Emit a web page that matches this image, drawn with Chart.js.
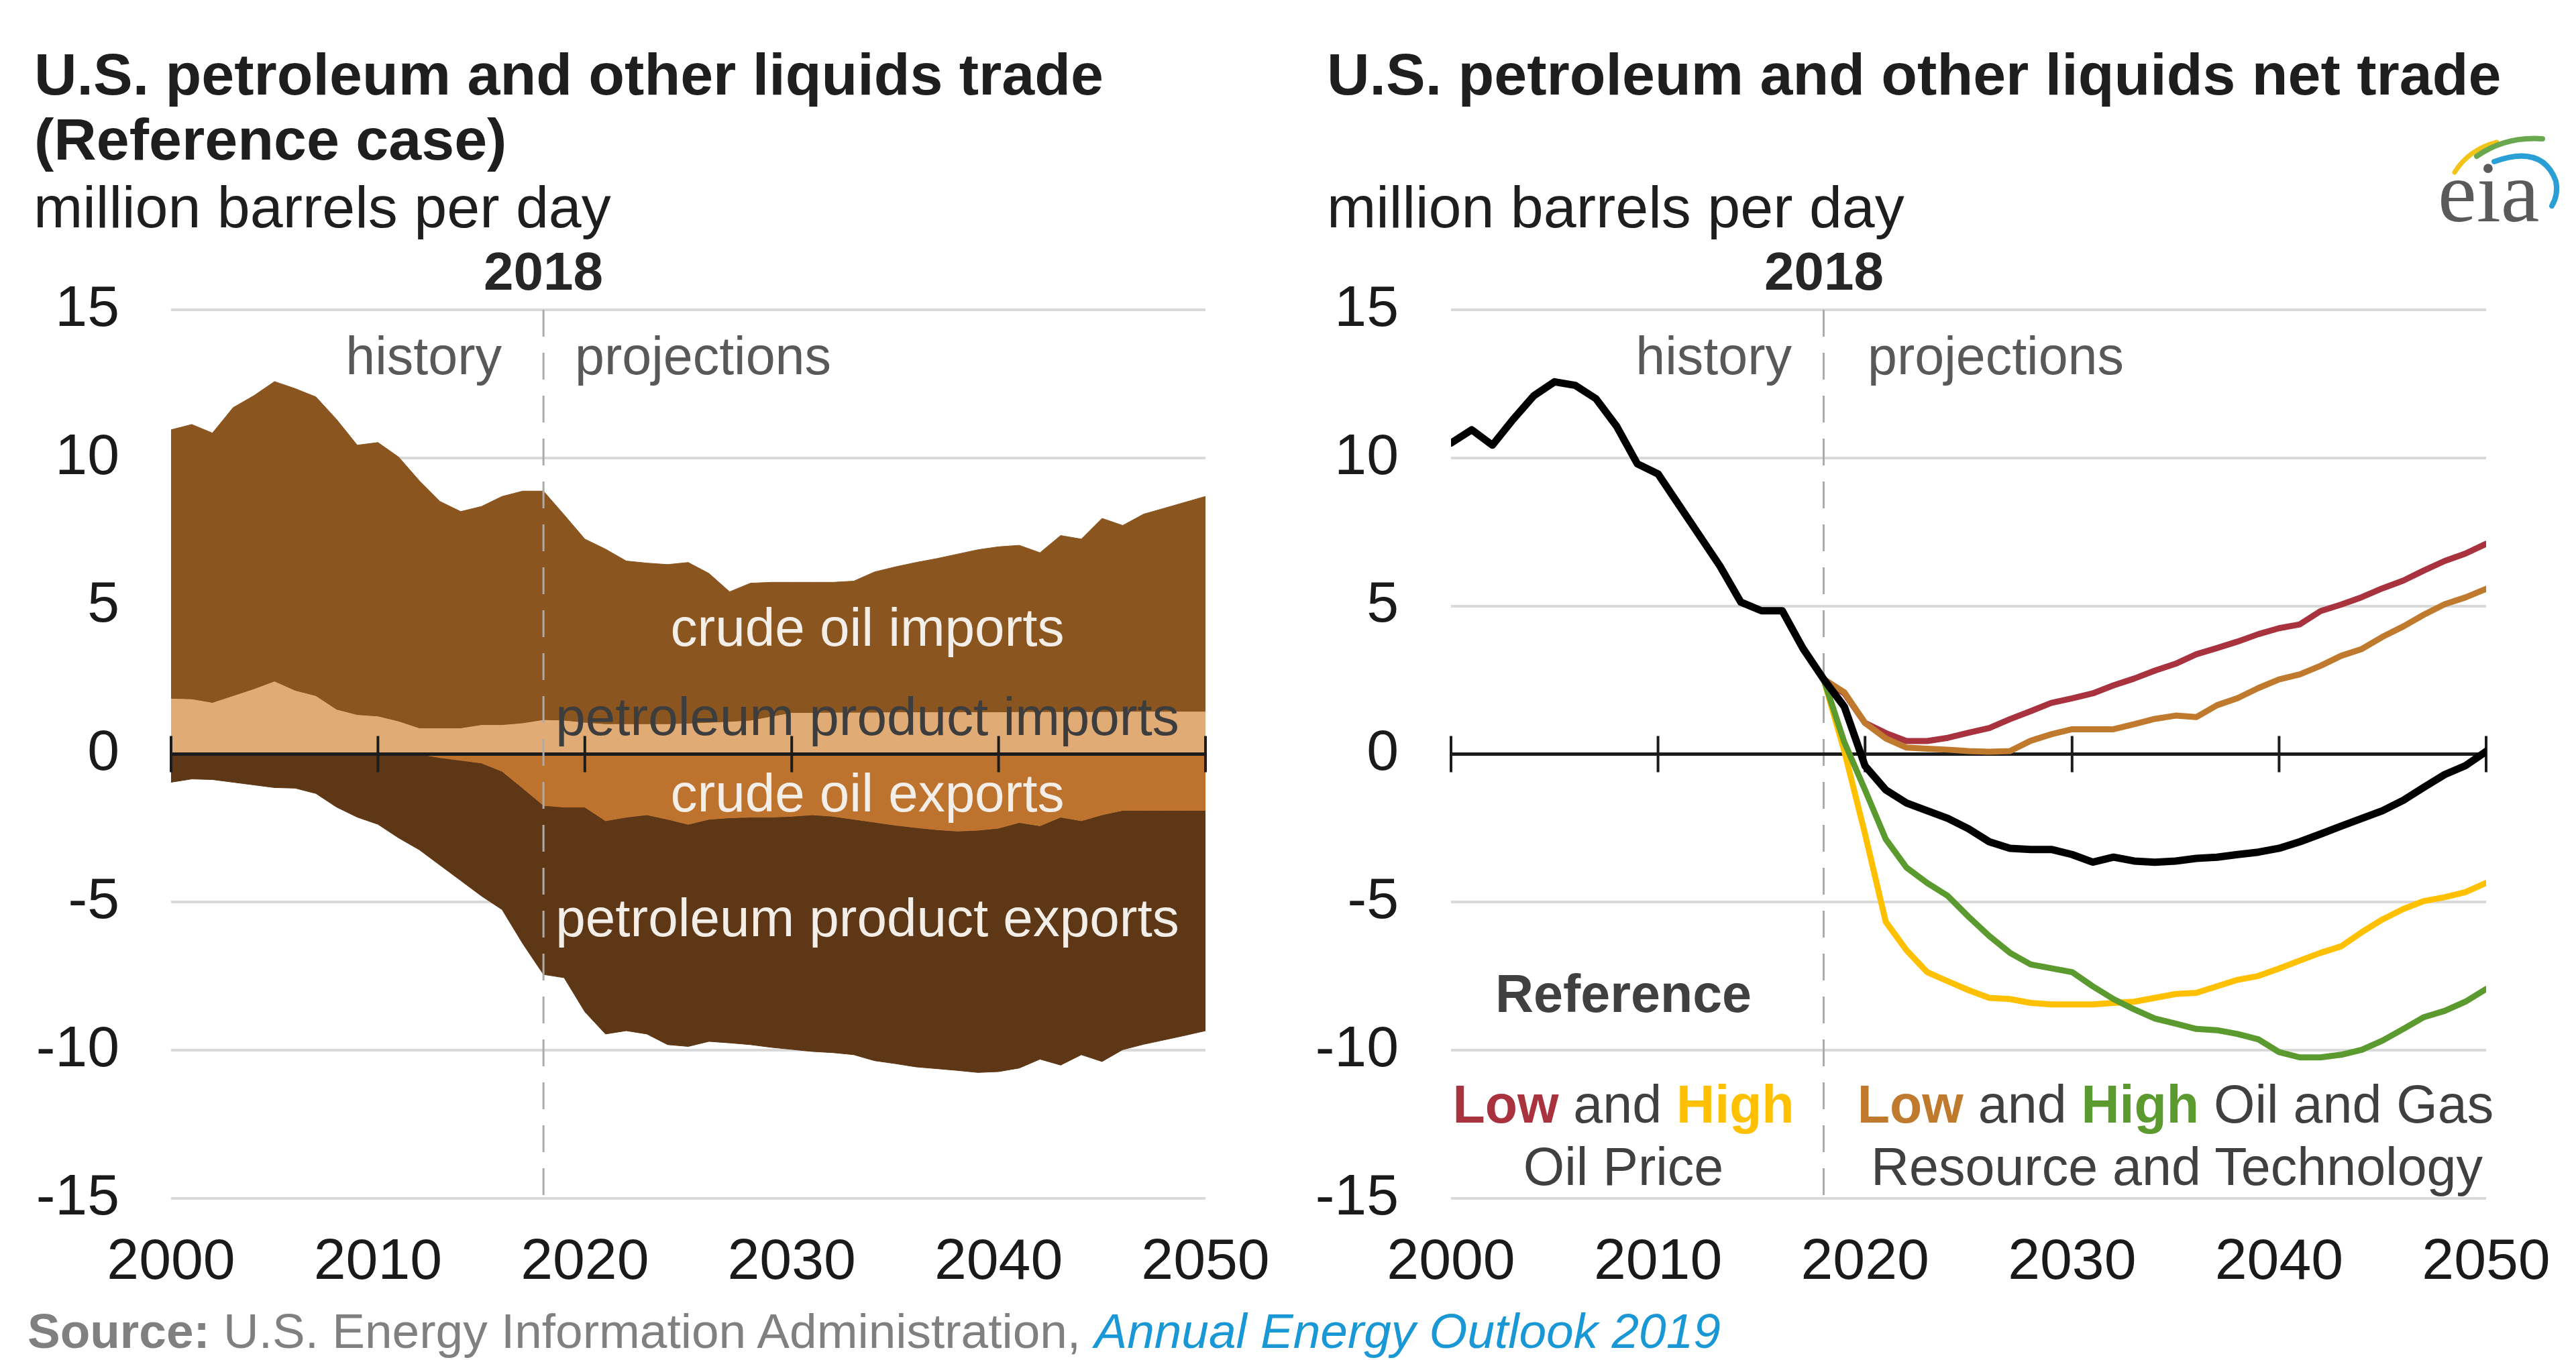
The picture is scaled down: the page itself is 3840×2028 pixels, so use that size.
<!DOCTYPE html>
<html>
<head>
<meta charset="utf-8">
<script src="https://cdn.jsdelivr.net/npm/chart.js@4.4.1/dist/chart.umd.min.js"></script>
<style>
html,body{margin:0;padding:0;background:#fff;}
#wrap{position:relative;width:3840px;height:2028px;overflow:hidden;font-family:"Liberation Sans",Arial,sans-serif;}
canvas{position:absolute;top:0;}
.t{position:absolute;white-space:nowrap;line-height:1;}
.c{transform:translateX(-50%);}
.r{transform:translateX(-100%);}
.title{font-weight:bold;font-size:88px;line-height:97px;color:#1e1e1e;top:62px;}
.sub{font-size:88px;color:#1e1e1e;top:265px;}
.yr{font-weight:bold;font-size:80px;color:#262626;top:365px;}
.hp{font-size:79px;color:#595959;top:491px;}
.ann{font-size:80px;color:#f4eee8;}
.ann2{font-size:79px;color:#404040;}
b{font-weight:bold;}
</style>
</head>
<body>
<div id="wrap">
<canvas id="leftChart" width="1920" height="2028" style="left:0"></canvas>
<canvas id="rightChart" width="1920" height="2028" style="left:1920px"></canvas>

<div class="t title" style="left:51px;">U.S. petroleum and other liquids trade<br>(Reference case)</div>
<div class="t sub" style="left:50px;">million barrels per day</div>
<div class="t title" style="left:1978px;">U.S. petroleum and other liquids net trade</div>
<div class="t sub" style="left:1978px;">million barrels per day</div>

<div class="t yr c" style="left:810px;">2018</div>
<div class="t yr c" style="left:2719px;">2018</div>

<div class="t hp r" style="left:748px;">history</div>
<div class="t hp" style="left:857px;">projections</div>
<div class="t hp r" style="left:2671px;">history</div>
<div class="t hp" style="left:2784px;">projections</div>

<div class="t ann c" style="left:1293px;top:896px;">crude oil imports</div>
<div class="t ann c" style="left:1293px;top:1029px;color:#3d3d3d;">petroleum product imports</div>
<div class="t ann c" style="left:1293px;top:1143px;">crude oil exports</div>
<div class="t ann c" style="left:1293px;top:1329px;">petroleum product exports</div>

<div class="t ann2 c" style="left:2420px;top:1442px;font-weight:bold;">Reference</div>
<div class="t ann2 c" style="left:2420px;top:1607px;"><b style="color:#a8323e">Low</b> and <b style="color:#ffc000">High</b></div>
<div class="t ann2 c" style="left:2420px;top:1700px;">Oil Price</div>
<div class="t ann2 c" style="left:3243px;top:1607px;"><b style="color:#c07a2d">Low</b> and <b style="color:#5b9a2f">High</b> Oil and Gas</div>
<div class="t ann2 c" style="left:3245px;top:1700px;">Resource and Technology</div>

<div class="t" style="left:41px;top:1948px;font-size:73px;color:#808080;"><b>Source:</b> U.S. Energy Information Administration, <i style="color:#1a98d5">Annual Energy Outlook 2019</i></div>

<svg style="position:absolute;left:3640px;top:195px;" width="190" height="130" viewBox="0 0 190 130">
  <path d="M19 62 Q40 28 82 17" stroke="#f2c318" stroke-width="7" fill="none" stroke-linecap="round"/>
  <path d="M52 38 Q95 8 150 12" stroke="#6aa84f" stroke-width="8" fill="none" stroke-linecap="round"/>
  <path d="M78 46 Q150 20 170 75 Q174 95 164 112" stroke="#2a9fd6" stroke-width="8" fill="none" stroke-linecap="round"/>
</svg>
<div class="t" style="left:3634px;top:221px;font-family:'Liberation Serif','DejaVu Serif',serif;font-size:130px;color:#5a5a5a;">eia</div>
</div>

<script>
// ---- categories ----
const years = [2000,2001,2002,2003,2004,2005,2006,2007,2008,2009,
  2010,2011,2012,2013,2014,2015,2016,2017,2018,2019,
  2020,2021,2022,2023,2024,2025,2026,2027,2028,2029,
  2030,2031,2032,2033,2034,2035,2036,2037,2038,2039,
  2040,2041,2042,2043,2044,2045,2046,2047,2048,2049,2050];
const projYears = [2018,2019,2020,2021,2022,2023,2024,2025,2026,2027,
  2028,2029,2030,2031,2032,2033,2034,2035,2036,2037,
  2038,2039,2040,2041,2042,2043,2044,2045,2046,2047,2048,2049,2050];
const historyEndYear = 2018;

// ---- left chart: trade components (million barrels per day) ----
const productImports = [1.86,1.84,1.72,1.95,2.18,2.44,2.13,1.95,1.49,1.31,
  1.26,1.09,0.86,0.86,0.86,0.97,0.97,1.03,1.14,1.12,
  1.05,1.00,1.00,1.00,1.00,1.02,1.05,1.08,1.12,1.25,
  1.38,1.38,1.39,1.39,1.39,1.40,1.40,1.40,1.40,1.40,
  1.40,1.41,1.41,1.41,1.41,1.41,1.42,1.42,1.42,1.42,1.42];
const crudeImports = [9.09,9.29,9.12,9.75,9.92,10.14,10.21,10.11,9.81,9.12,
  9.26,8.94,8.37,7.67,7.33,7.39,7.73,7.85,7.74,6.96,
  6.21,5.92,5.52,5.45,5.40,5.45,5.05,4.40,4.65,4.55,
  4.42,4.42,4.41,4.45,4.76,4.92,5.07,5.20,5.35,5.50,
  5.60,5.64,5.39,5.97,5.85,6.55,6.30,6.68,6.88,7.08,7.28];
const crudeExports = [0,0,0,0,0,0,0,0,0,0,
  0,0,0,-0.12,-0.21,-0.30,-0.58,-1.15,-1.73,-1.79,
  -1.79,-2.25,-2.13,-2.05,-2.20,-2.37,-2.20,-2.15,-2.13,-2.13,
  -2.10,-2.05,-2.10,-2.20,-2.30,-2.40,-2.48,-2.55,-2.60,-2.57,
  -2.50,-2.31,-2.42,-2.13,-2.25,-2.05,-1.90,-1.90,-1.90,-1.90,-1.90];
const productExports = [-0.95,-0.84,-0.86,-0.95,-1.04,-1.13,-1.15,-1.33,-1.79,-2.13,
  -2.37,-2.83,-3.23,-3.63,-4.06,-4.49,-4.67,-5.25,-5.71,-5.76,
  -6.91,-7.20,-7.21,-7.40,-7.61,-7.50,-7.50,-7.60,-7.68,-7.77,
  -7.87,-7.99,-7.98,-7.95,-8.05,-8.05,-8.08,-8.07,-8.08,-8.18,
  -8.22,-8.29,-7.88,-8.37,-7.90,-8.33,-8.08,-7.90,-7.75,-7.60,-7.44];

// ---- right chart: net trade by case ----
const netReference = [10.5,10.95,10.43,11.3,12.1,12.57,12.45,12.0,11.07,9.8,
  9.46,8.42,7.38,6.34,5.13,4.84,4.84,3.57,2.53,1.6,
  -0.4,-1.21,-1.65,-1.91,-2.17,-2.52,-2.96,-3.18,-3.22,-3.22,
  -3.39,-3.65,-3.48,-3.61,-3.65,-3.61,-3.52,-3.48,-3.39,-3.31,
  -3.18,-2.96,-2.7,-2.43,-2.17,-1.91,-1.56,-1.12,-0.69,-0.39,0.09];
const netLowOilPrice = [2.53,2.05,1.05,0.71,0.44,0.44,0.55,0.72,0.88,1.18,
  1.45,1.73,1.88,2.05,2.32,2.55,2.82,3.05,3.37,3.58,
  3.8,4.05,4.25,4.38,4.83,5.05,5.3,5.6,5.86,6.2,6.52,6.77,7.1];
const netHighOilPrice = [2.53,0.1,-2.7,-5.66,-6.62,-7.36,-7.67,-7.97,-8.23,-8.27,
  -8.4,-8.45,-8.45,-8.45,-8.4,-8.36,-8.23,-8.1,-8.06,-7.84,
  -7.62,-7.49,-7.24,-6.97,-6.71,-6.49,-6.01,-5.58,-5.23,-4.96,-4.83,-4.66,-4.35];
const netLowResource = [2.53,2.09,1.05,0.53,0.22,0.18,0.15,0.1,0.08,0.1,
  0.45,0.67,0.84,0.84,0.84,1.01,1.19,1.3,1.25,1.65,
  1.89,2.23,2.52,2.69,2.98,3.32,3.55,3.96,4.31,4.71,5.06,5.29,5.58];
const netHighResource = [2.53,0.4,-1.21,-2.87,-3.83,-4.35,-4.79,-5.49,-6.14,-6.71,
  -7.1,-7.23,-7.36,-7.84,-8.27,-8.62,-8.93,-9.1,-9.28,-9.32,
  -9.45,-9.63,-10.06,-10.24,-10.24,-10.15,-9.98,-9.67,-9.28,-8.88,-8.67,-8.36,-7.93];

// ---- tick labels ----
const xTickValues = [2000,2010,2020,2030,2040,2050];
const xTickLabels = ['2000','2010','2020','2030','2040','2050'];
const yTickValues = [-15,-10,-5,0,5,10,15];
const yTickLabels = ['-15','-10','-5','0','5','10','15'];

const FONT = "'Liberation Sans', Arial, sans-serif";
const pts = (xs, ys) => xs.map((x, i) => ({x: x, y: ys[i]}));

function drawZeroAxis(chart) {
  const {ctx, scales: {x, y}} = chart;
  const y0 = y.getPixelForValue(0);
  ctx.save();
  ctx.strokeStyle = '#1c1c1c';
  ctx.lineWidth = 5;
  ctx.beginPath();
  ctx.moveTo(x.getPixelForValue(2000), y0);
  ctx.lineTo(x.getPixelForValue(2050), y0);
  ctx.stroke();
  ctx.lineWidth = 4;
  xTickValues.forEach(v => {
    const px = x.getPixelForValue(v);
    ctx.beginPath();
    ctx.moveTo(px, y0 - 27);
    ctx.lineTo(px, y0 + 27);
    ctx.stroke();
  });
  ctx.restore();
}
function drawDivider(chart) {
  const {ctx, scales: {x, y}} = chart;
  const px = x.getPixelForValue(historyEndYear);
  ctx.save();
  ctx.strokeStyle = '#ababab';
  ctx.lineWidth = 3;
  ctx.setLineDash([40, 24]);
  ctx.beginPath();
  ctx.moveTo(px, y.getPixelForValue(15));
  ctx.lineTo(px, y.getPixelForValue(-15));
  ctx.stroke();
  ctx.restore();
}

function makeScales(yWidth, yPad, stacked) {
  return {
    x: {
      type: 'linear', min: 2000, max: 2050,
      grid: {display: false, drawTicks: false},
      border: {display: false},
      ticks: {
        stepSize: 10, padding: 45, maxRotation: 0, autoSkip: false,
        color: '#1a1a1a', font: {family: FONT, size: 86},
        callback: v => { const i = xTickValues.indexOf(v); return i >= 0 ? xTickLabels[i] : ''; }
      },
      afterFit: s => { s.height = 241; s.paddingLeft = 0; s.paddingRight = 0; }
    },
    y: {
      min: -15, max: 15, stacked: stacked,
      grid: {
        color: c => (c.tick && c.tick.value === 0) ? 'rgba(0,0,0,0)' : '#d9d9d9',
        lineWidth: 4, drawTicks: false
      },
      border: {display: false},
      ticks: {
        stepSize: 5, padding: yPad,
        color: '#1a1a1a', font: {family: FONT, size: 86},
        callback: v => { const i = yTickValues.indexOf(v); return i >= 0 ? yTickLabels[i] : ''; }
      },
      afterFit: s => { s.width = yWidth; s.paddingTop = 0; s.paddingBottom = 0; }
    }
  };
}

const common = {
  responsive: false, animation: false,
  plugins: {legend: {display: false}, tooltip: {enabled: false}},
  elements: {point: {radius: 0}, line: {tension: 0}}
};

function area(label, data, fill, color, stack) {
  return {label, data: pts(years, data), fill, stack, backgroundColor: color, borderColor: color,
          borderWidth: 1, pointRadius: 0, tension: 0};
}

new Chart(document.getElementById('leftChart'), {
  type: 'line',
  data: {
    datasets: [
      area('petroleum product imports', productImports, 'origin', '#e1ab76', 'imports'),
      area('crude oil imports', crudeImports, '-1', '#8b5520', 'imports'),
      area('crude oil exports', crudeExports, 'origin', '#bd722d', 'exports'),
      area('petroleum product exports', productExports, '-1', '#5e3816', 'exports')
    ]
  },
  options: Object.assign({}, common, {
    layout: {padding: {top: 462, right: 123, bottom: 0, left: 0}},
    scales: makeScales(255, 77, true)
  }),
  plugins: [{id: 'leftOverlay', afterDatasetsDraw(chart) { drawZeroAxis(chart); drawDivider(chart); }}]
});

function line(label, xs, data, color, width) {
  return {label, data: pts(xs, data), borderColor: color, backgroundColor: color, borderWidth: width,
          fill: false, pointRadius: 0, tension: 0, borderJoinStyle: 'round', borderCapStyle: 'round'};
}

new Chart(document.getElementById('rightChart'), {
  type: 'line',
  data: {
    datasets: [
      line('Reference', years, netReference, '#000000', 11),
      line('High Oil and Gas Resource and Technology', projYears, netHighResource, '#5b9a2f', 9),
      line('High Oil Price', projYears, netHighOilPrice, '#ffc000', 9),
      line('Low Oil and Gas Resource and Technology', projYears, netLowResource, '#c07a2d', 9),
      line('Low Oil Price', projYears, netLowOilPrice, '#a8323e', 9)
    ]
  },
  options: Object.assign({}, common, {
    layout: {padding: {top: 462, right: 134, bottom: 0, left: 0}},
    scales: makeScales(243, 78, false)
  }),
  plugins: [{id: 'rightOverlay', beforeDatasetsDraw(chart) { drawDivider(chart); drawZeroAxis(chart); }}]
});
</script>
</body>
</html>
